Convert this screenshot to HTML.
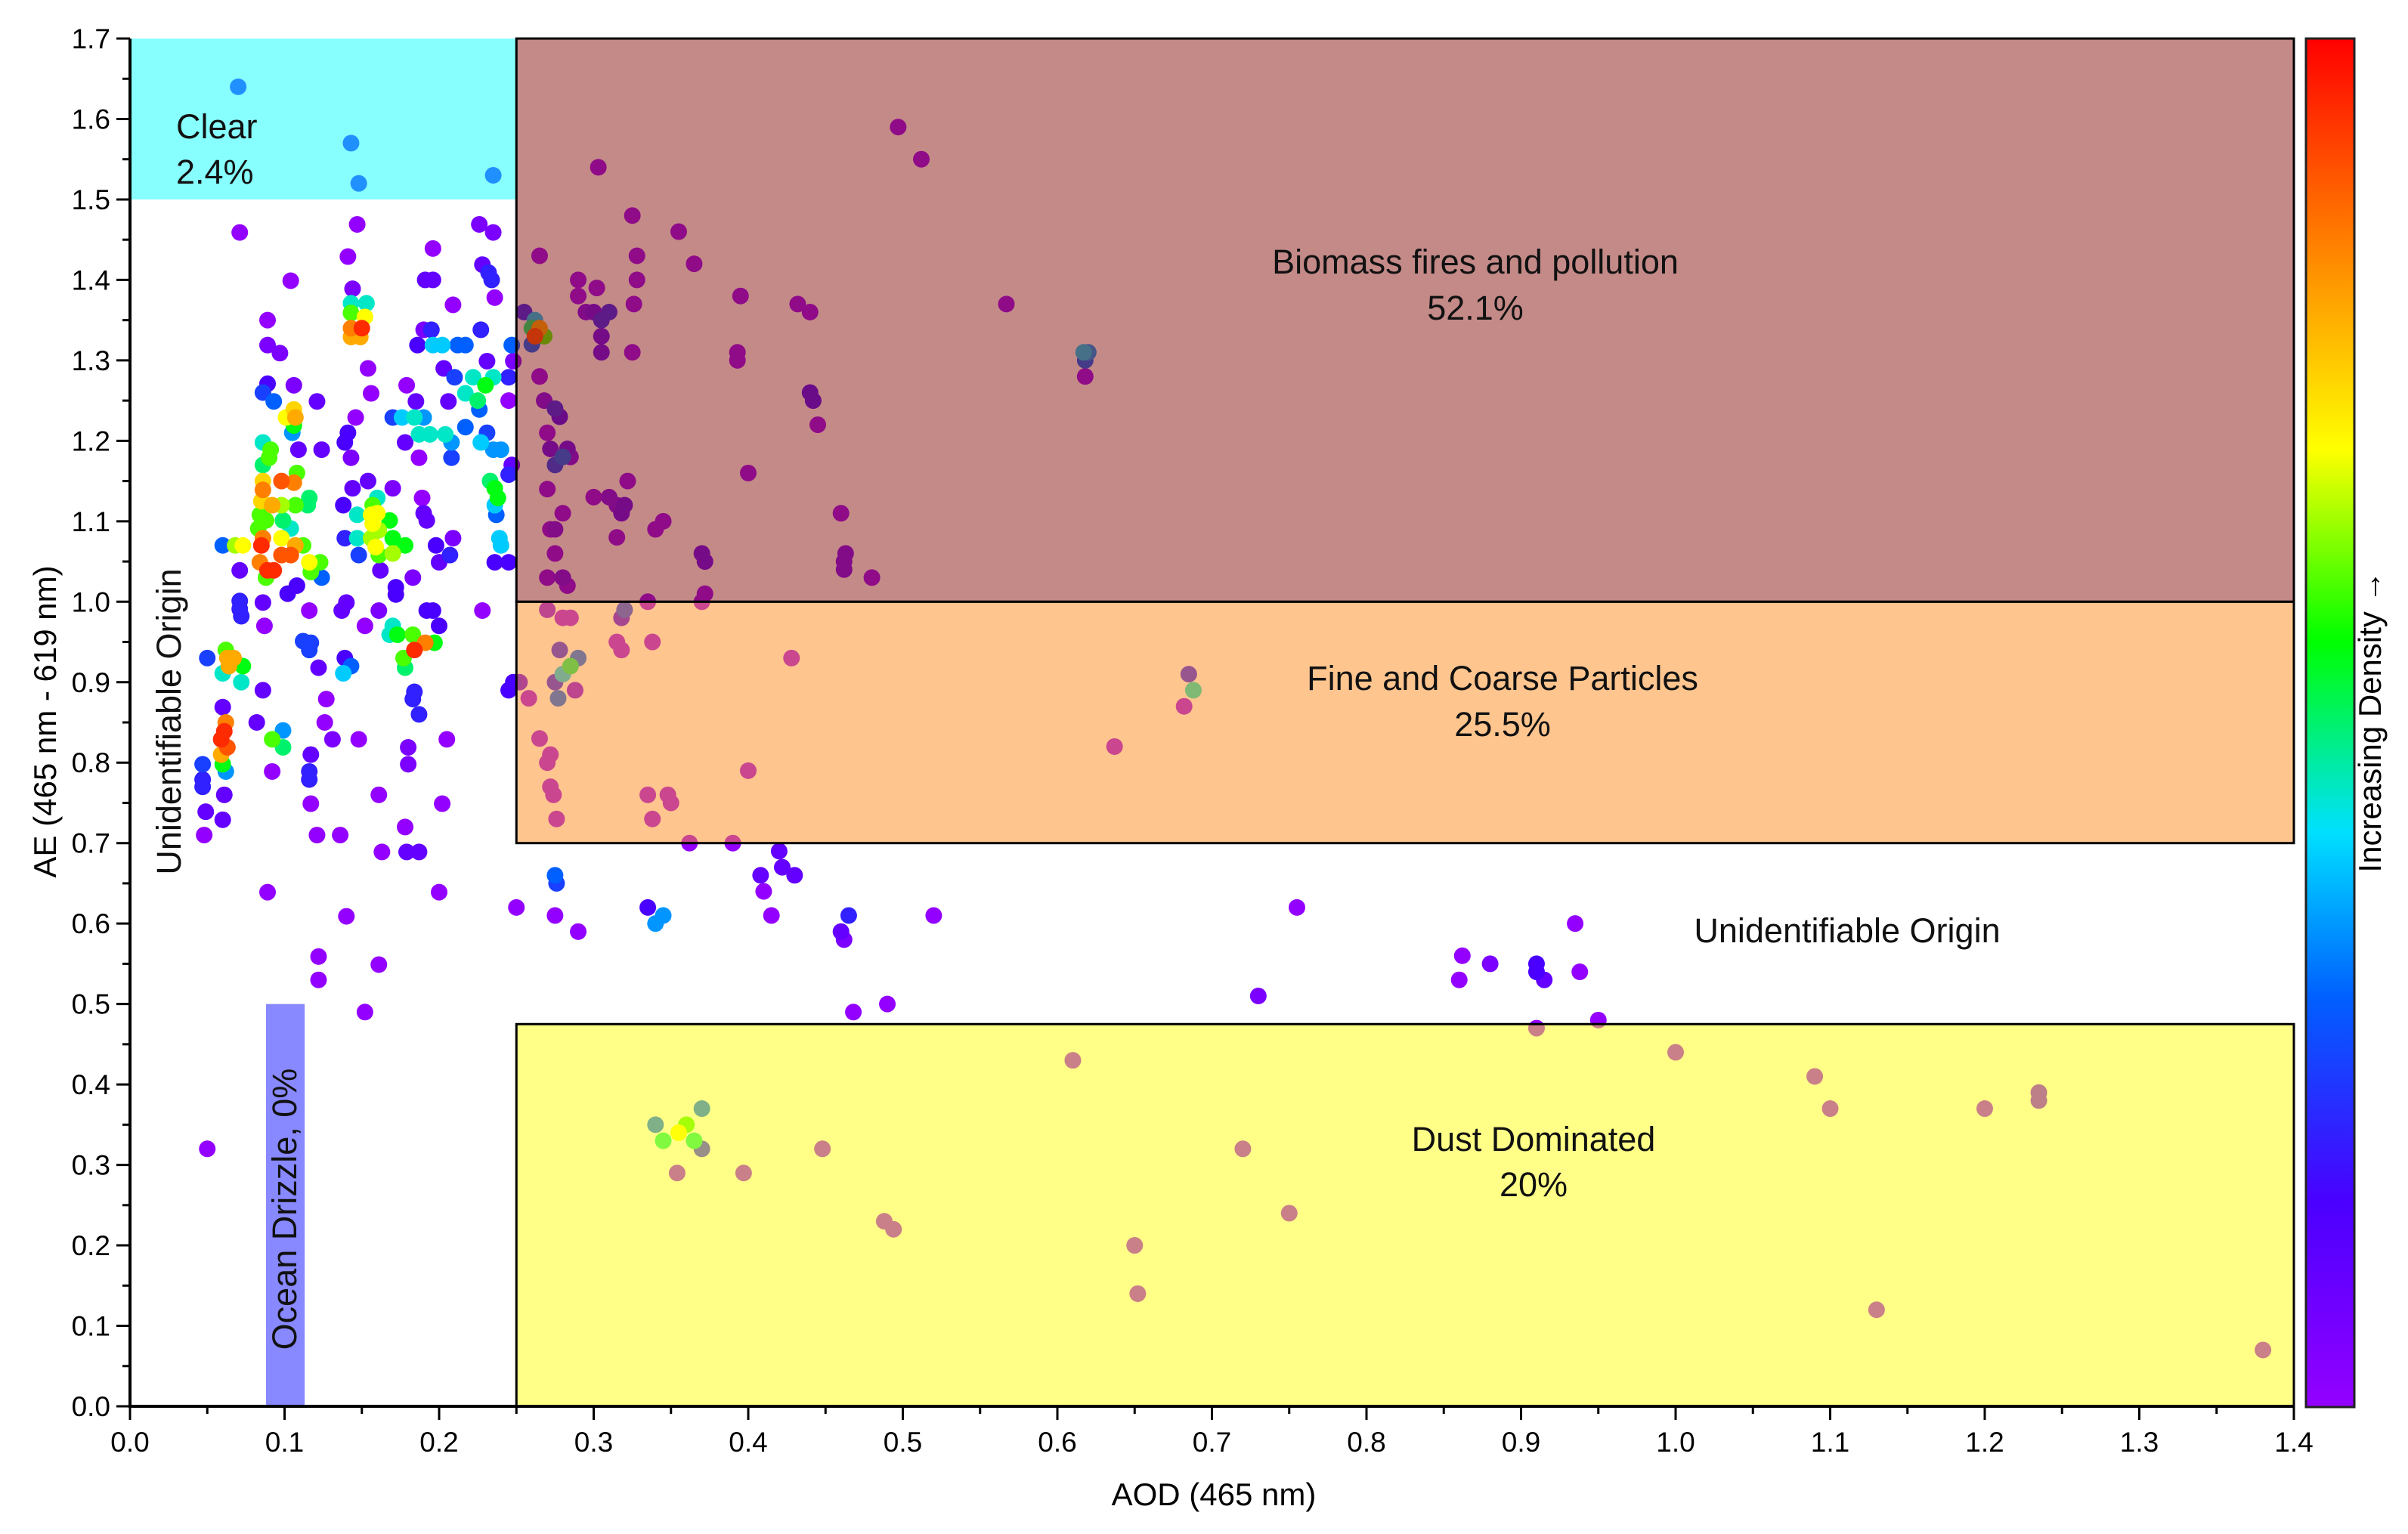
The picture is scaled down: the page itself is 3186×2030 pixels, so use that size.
<!DOCTYPE html>
<html><head><meta charset="utf-8"><style>
html,body{margin:0;padding:0;background:#fff;}
svg{display:block;font-family:"Liberation Sans",Arial,sans-serif;}
</style></head><body>
<svg id="chart" width="3186" height="2030" viewBox="0 0 3186 2030" xmlns="http://www.w3.org/2000/svg">
<defs>
<linearGradient id="cbar" x1="0" y1="1" x2="0" y2="0">
<stop offset="0" stop-color="#9400ff"/><stop offset="0.15" stop-color="#4a00ff"/><stop offset="0.3" stop-color="#0060ff"/><stop offset="0.42" stop-color="#00e0ff"/><stop offset="0.56" stop-color="#00ff00"/><stop offset="0.7" stop-color="#ffff00"/><stop offset="0.85" stop-color="#ff8000"/><stop offset="1" stop-color="#ff0000"/>
</linearGradient>
</defs>
<g id="points"></g>
<g id="regions"></g>
<g id="axes"></g>
<rect x="3051" y="51" width="64" height="1811" fill="url(#cbar)" stroke="#222" stroke-width="3"/>
<text transform="translate(3150,955) rotate(-90)" text-anchor="middle" font-size="42">Increasing Density →</text>
<text x="1606" y="1992" text-anchor="middle" font-size="42">AOD (465 nm)</text>
<text transform="translate(74,955) rotate(-90)" text-anchor="middle" font-size="42">AE (465 nm - 619 nm)</text>
</svg>
<script>
const xTicks=[0,0.1,0.2,0.3,0.4,0.5,0.6,0.7,0.8,0.9,1.0,1.1,1.2,1.3,1.4];
const yTicks=[0,0.1,0.2,0.3,0.4,0.5,0.6,0.7,0.8,0.9,1.0,1.1,1.2,1.3,1.4,1.5,1.6,1.7];
const aodVals=[
.07,.143,.148,.235,
.071,.147,.226,.235,.196,.141,.228,.232,.234,.236,.191,.196,.104,.144,.209,.143,.153,.143,.152,.143,.15,.143,.149,.089,.089,.097,.19,.195,.227,.186,.196,.202,.212,.217,.247,.154,.156,.179,.203,.231,.21,.222,.235,.23,.217,.225,.226,.245,.245,.248,.089,.086,.093,.106,.121,.106,.101,.107,.106,.105,.146,.141,.139,.143,.17,.176,.184,.19,.185,.206,.187,.194,.204,.208,.217,.231,.227,.235,.24,.178,.187,.208,.086,.091,.09,.086,.109,.124,.247,.245,
.086,.098,.106,.108,.086,.085,.092,.098,.107,.116,.115,.084,.088,.083,.099,.104,.098,.086,.085,.107,.112,.098,.104,.084,.089,.093,.088,.116,.123,.117,.124,.06,.068,.073,.071,.144,.154,.138,.17,.16,.157,.147,.156,.16,.168,.157,.161,.156,.139,.147,.17,.178,.159,.17,.161,.148,.162,.189,.19,.192,.209,.198,.207,.2,.233,.236,.238,.236,.237,.239,.24,.236,.245,.183,.172,.172,.102,.108,.071,.071,.072,.086,.087,.116,.137,.14,.161,.152,.192,.196,.2,.228,.112,.117,.116,.122,.139,.143,.138,.17,.168,.173,.183,.191,.184,.197,.177,.178,.05,.062,.063,.067,.064,.073,.06,
.072,.086,.127,.184,.183,.187,.245,.248,.06,.062,.061,.059,.063,.059,.06,.062,.047,.047,.047,.061,.049,.06,.048,.082,.092,.099,.099,.092,.126,.131,.148,.117,.116,.116,.117,.121,.136,.161,.163,.179,.187,.18,.18,.205,.202,.178,.089,.14,.2,.122,.122,.161,.152,.05,
.61,.65,.652,.72,.75,.91,1.0,1.09,1.1,1.13,1.2,1.235,1.235,1.38,.488,.494,.448,.397,.354,.34,.345,.355,.36,.365,.37,.37,
.25,.275,.276,.275,.29,.335,.34,.345,.408,.41,.415,.42,.422,.43,.46,.462,.465,.468,.49,.52,.73,.755,.86,.862,.88,.91,.91,.915,.935,.938,.95,.39,.362,
.258,.265,.27,.272,.272,.274,.276,.275,.277,.28,.285,.29,.278,.288,.28,.285,.318,.315,.338,.335,.338,.348,.35,.4,.428,.252,.637,.682,.685,.688,.27,.32,.318,
.255,.26,.262,.265,.268,.262,.26,.265,.265,.268,.27,.272,.275,.278,.275,.28,.283,.285,.27,.272,.275,.275,.28,.27,.28,.283,.29,.29,.295,.302,.3,.305,.305,.305,.31,.303,.32,.318,.315,.322,.325,.328,.328,.326,.325,.34,.345,.355,.365,.37,.372,.37,.372,.393,.393,.395,.4,.432,.44,.442,.44,.445,.46,.463,.462,.462,.48,.497,.512,.567,.617,.618,.62,.618,.30,.31,.315,.335
];
const aeVals=[
1.64,1.57,1.52,1.53,
1.459,1.469,1.469,1.459,1.439,1.429,1.419,1.409,1.4,1.378,1.4,1.4,1.399,1.389,1.369,1.371,1.371,1.359,1.354,1.34,1.34,1.329,1.329,1.35,1.319,1.309,1.338,1.338,1.338,1.319,1.319,1.319,1.319,1.319,1.319,1.29,1.259,1.269,1.29,1.299,1.279,1.279,1.279,1.269,1.259,1.25,1.239,1.279,1.25,1.299,1.271,1.26,1.249,1.269,1.249,1.239,1.229,1.229,1.219,1.21,1.229,1.21,1.198,1.179,1.229,1.229,1.229,1.229,1.249,1.249,1.208,1.208,1.208,1.198,1.217,1.21,1.198,1.189,1.189,1.198,1.179,1.179,1.198,1.189,1.179,1.17,1.189,1.189,1.17,1.158,
1.15,1.15,1.148,1.16,1.139,1.125,1.12,1.12,1.12,1.129,1.12,1.108,1.101,1.091,1.101,1.091,1.079,1.079,1.07,1.07,1.07,1.058,1.058,1.049,1.039,1.039,1.03,1.049,1.049,1.037,1.03,1.07,1.07,1.07,1.039,1.141,1.15,1.12,1.141,1.129,1.12,1.108,1.108,1.11,1.101,1.097,1.089,1.079,1.079,1.079,1.079,1.07,1.068,1.06,1.058,1.058,1.039,1.129,1.11,1.101,1.079,1.07,1.058,1.049,1.15,1.141,1.129,1.12,1.108,1.079,1.07,1.049,1.049,1.03,1.018,1.009,1.01,1.02,1.001,.991,.982,.999,.97,.989,.989,.999,.989,.97,.989,.989,.97,.989,.951,.949,.94,.918,.93,.92,.911,.97,.959,.959,.959,.949,.94,.949,.93,.918,.93,.94,.93,.93,.92,.92,.911,
.9,.89,.879,.888,.879,.86,.89,.9,.869,.85,.839,.829,.819,.81,.798,.789,.798,.779,.77,.76,.739,.729,.71,.85,.829,.84,.819,.789,.85,.829,.829,.81,.789,.779,.749,.71,.71,.76,.689,.689,.689,.819,.798,.829,.749,.72,.639,.609,.639,.559,.53,.549,.49,.32,
.43,.20,.14,.32,.24,.47,.44,.41,.37,.12,.37,.39,.38,.07,.23,.22,.32,.29,.29,.35,.33,.34,.35,.33,.37,.32,
.62,.66,.65,.61,.59,.62,.60,.61,.66,.64,.61,.69,.67,.66,.59,.58,.61,.49,.50,.61,.51,.62,.53,.56,.55,.55,.54,.53,.60,.54,.48,.70,.70,
.88,.83,.80,.81,.77,.76,.73,.90,.88,.91,.92,.93,.94,.89,.98,.98,.94,.95,.95,.76,.73,.76,.75,.79,.93,.90,.82,.87,.91,.89,.99,.99,.98,
1.36,1.34,1.33,1.34,1.33,1.35,1.32,1.43,1.28,1.25,1.21,1.19,1.24,1.23,1.17,1.18,1.19,1.18,1.14,1.09,1.09,1.06,1.11,1.03,1.03,1.02,1.38,1.40,1.36,1.39,1.36,1.35,1.33,1.31,1.36,1.54,1.12,1.11,1.08,1.15,1.48,1.43,1.40,1.37,1.31,1.09,1.10,1.46,1.42,1.06,1.05,1.00,1.01,1.31,1.30,1.38,1.16,1.37,1.26,1.25,1.36,1.22,1.11,1.06,1.05,1.04,1.03,1.59,1.55,1.37,1.31,1.30,1.31,1.28,1.13,1.13,1.12,1.00
];
const densVals=[
.2,.2,.2,.2,
0,0,.05,.05,0,0,.1,.2,.2,0,.1,.1,0,.05,0,.45,.45,.6,.7,.85,.95,.8,.8,0,.05,.05,.05,.2,.2,.15,.4,.4,.3,.3,.3,0,0,0,.1,.1,.25,.45,.45,.55,.45,.5,.3,.2,0,.05,.15,.25,.3,.05,.1,.75,.7,.8,.55,.35,0,.15,.15,.05,.25,.4,.45,.35,.1,.1,.45,.45,.45,.35,.3,.25,.4,.35,.35,.1,0,.25,.45,.6,.6,.5,.1,.1,.1,.2,
.75,.9,.85,.6,.85,.75,.8,.65,.6,.5,.5,.6,.6,.6,.5,.45,.7,.85,.95,.8,.6,.9,.9,.85,.95,.95,.6,.7,.6,.6,.3,.3,.65,.7,.1,.1,.1,.15,.05,.45,.6,.45,.7,.7,.55,.7,.65,.65,.2,.45,.55,.55,.7,.65,.6,.25,.1,0,.1,.1,.05,.15,.2,.1,.5,.55,.55,.4,.3,.4,.4,.15,.15,.05,.15,.15,.15,.15,.2,.2,.2,.1,0,0,.1,.1,.05,0,.15,.15,.15,0,.25,.25,.25,.1,.15,.3,.4,.45,.45,.55,.6,.85,.95,.55,.6,.5,.25,.6,.8,.8,.8,.55,.45,
.45,.1,0,.2,.2,.2,.15,.15,.1,.85,.95,.95,.9,.8,.55,.35,.25,.2,.2,.1,.1,.1,0,.1,.6,.35,.5,0,0,.05,0,.1,.2,.2,0,0,0,0,0,.1,.1,.05,.05,0,0,0,0,0,0,0,0,0,0,0,
0,0,0,0,0,0,0,0,0,0,0,.05,.05,0,0,0,0,0,0,.3,.5,.7,.6,.5,.3,.2,
0,.3,.25,0,0,.15,.35,.35,.1,0,0,.1,.1,.1,.1,.05,.2,0,0,0,.05,0,0,0,.05,.15,.15,.1,0,0,0,0,0,
0,0,0,0,0,0,0,.2,.3,.4,.5,.3,.2,.05,0,0,0,0,0,0,0,0,0,0,0,.1,0,0,.2,.45,.05,.25,.15,
.2,.5,.9,.8,.6,.4,.3,0,0,.05,0,.1,.2,.15,.25,.3,.1,.05,0,0,.05,0,0,0,.05,0,0,0,.05,0,.1,.2,.1,.1,.2,0,.1,.1,0,0,0,0,0,0,0,0,0,0,0,.1,.1,0,0,0,0,0,0,0,.15,.15,0,0,0,.05,.05,.05,0,0,0,0,.4,.3,.35,0,0,.05,.05,0
];
const NS='http://www.w3.org/2000/svg';
const X0=172,XS=2045,Y0=1861,YS=1064.7;
function xs(v){return X0+v*XS;}
function ys(v){return Y0-v*YS;}
const stops=[[0,[148,0,255]],[0.15,[74,0,255]],[0.3,[0,96,255]],[0.42,[0,224,255]],[0.56,[0,255,0]],[0.7,[255,255,0]],[0.85,[255,128,0]],[1,[255,0,0]]];
function cmap(t){for(let i=1;i<stops.length;i++){if(t<=stops[i][0]){const a=stops[i-1],b=stops[i];const f=(t-a[0])/(b[0]-a[0]);return 'rgb('+a[1].map((c,k)=>Math.round(c+(b[1][k]-c)*f)).join(',')+')';}}return 'rgb(255,0,0)';}
function mk(tag,attrs,parent){const e=document.createElementNS(NS,tag);for(const k in attrs)e.setAttribute(k,attrs[k]);parent.appendChild(e);return e;}
const gp=document.getElementById('points');
const n=Math.min(aodVals.length,aeVals.length,densVals.length);
const order=[...Array(n).keys()].sort((a,b)=>densVals[a]-densVals[b]);
for(const i of order){
  const c=mk('circle',{cx:xs(aodVals[i]),cy:ys(aeVals[i]),r:11,fill:cmap(densVals[i])},gp);
  
  
}
const gr=document.getElementById('regions');
function region(name,x1,x2,y1,y2,fill,border){
  const r=mk('rect',{x:xs(x1),y:ys(y2),width:xs(x2)-xs(x1),height:ys(y1)-ys(y2),fill:fill,'fill-opacity':0.5,stroke:border?'#000':'none','stroke-width':3},gr);
  
  
}
region('clear-region',0,0.25,1.5,1.7,'#11ffff',false);
region('biomass-region',0.25,1.4,1.0,1.7,'#891511',true);
region('fine-coarse-region',0.25,1.4,0.7,1.0,'#ff8b1f',true);
region('dust-region',0.25,1.4,0,0.475,'#ffff11',true);
region('ocean-drizzle-region',0.088,0.113,0,0.5,'#1111ff',false);
function label(name,txt,x,y,anchor,rot){
  const t=mk('text',{x:x,y:y,'font-size':45,'text-anchor':anchor||'middle',fill:'#111'},gr);
  if(rot)t.setAttribute('transform','rotate(-90 '+x+' '+y+')');
  t.textContent=txt;
  
  
}
label('clear-label','Clear',233,183,'start');
label('clear-percent','2.4%',233,243,'start');
label('biomass-label','Biomass fires and pollution',1952,362);
label('biomass-percent','52.1%',1952,423);
label('fine-coarse-label','Fine and Coarse Particles',1988,913);
label('fine-coarse-percent','25.5%',1988,974);
label('unidentifiable-label-right','Unidentifiable Origin',2444,1247);
label('dust-label','Dust Dominated',2029,1523);
label('dust-percent','20%',2029,1583);
label('unidentifiable-label-left','Unidentifiable Origin',239,955,'middle',true);
label('ocean-drizzle-label','Ocean Drizzle, 0%',392,1600,'middle',true);
const ga=document.getElementById('axes');
mk('line',{x1:X0,y1:ys(1.7),x2:X0,y2:Y0+2,stroke:'#000','stroke-width':4},ga);
mk('line',{x1:X0-2,y1:Y0,x2:xs(1.4),y2:Y0,stroke:'#000','stroke-width':4},ga);
xTicks.forEach(v=>{
  mk('line',{x1:xs(v),y1:Y0,x2:xs(v),y2:Y0+18,stroke:'#000','stroke-width':3},ga);
  if(v<1.4)mk('line',{x1:xs(v+0.05),y1:Y0,x2:xs(v+0.05),y2:Y0+10,stroke:'#000','stroke-width':3},ga);
  const t=mk('text',{x:xs(v),y:Y0+60,'font-size':37,'text-anchor':'middle'},ga);
  t.textContent=v.toFixed(1);
  
  
});
yTicks.forEach(v=>{
  mk('line',{x1:X0,y1:ys(v),x2:X0-18,y2:ys(v),stroke:'#000','stroke-width':3},ga);
  if(v<1.7)mk('line',{x1:X0,y1:ys(v+0.05),x2:X0-10,y2:ys(v+0.05),stroke:'#000','stroke-width':3},ga);
  const t=mk('text',{x:X0-26,y:ys(v)+13,'font-size':37,'text-anchor':'end'},ga);
  t.textContent=v.toFixed(1);
  
  
});
</script>
</body></html>
